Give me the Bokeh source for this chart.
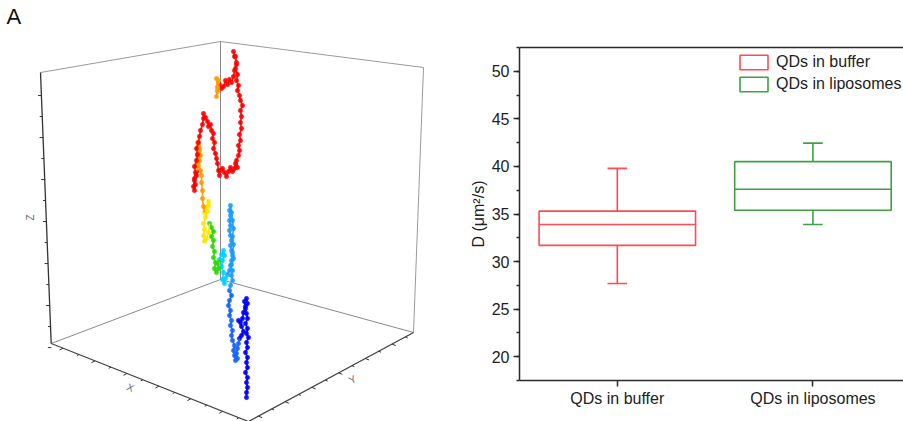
import numpy as np
from bokeh.plotting import figure
from bokeh.models import (Range1d, FixedTicker, SingleIntervalTicker, LinearAxis,
                          Label, Legend, LegendItem)
from bokeh.embed import file_html
from bokeh.resources import INLINE
from bokeh.core.properties import value

# ---------------- data: panel B (box statistics, D in um^2/s) ----------------
categories = ["QDs in buffer", "QDs in liposomes"]
box_q1 = [31.7, 35.4]
box_median = [33.9, 37.6]
box_q3 = [35.3, 40.5]
whisker_low = [27.7, 33.9]
whisker_high = [39.8, 42.45]
y_ticks = [20, 25, 30, 35, 40, 45, 50]

# ---------------- data: panel A (projected 3D trajectory) ----------------
track_u = [
    246, 246, 247, 246, 247, 245, 247, 246, 247, 245, 247, 246, 248, 246, 247, 245, 247, 246, 245, 247,
    246, 244, 245, 243, 242, 240, 238, 241, 243, 241, 239,
    238, 237, 236, 237, 235, 234, 233, 234, 232, 231, 232, 230, 231, 229, 230, 228, 229, 231, 229,
    230, 232, 231, 232, 230, 231, 232, 231, 230, 231, 230, 229, 230, 229, 230, 229, 230, 231, 232, 233,
    232, 233, 232, 233, 231, 229, 227,
    225, 224, 222, 223, 221, 222, 224, 223, 221, 219,
    217, 218, 216, 214, 215, 213, 214, 212, 213, 211, 213, 211, 209,
    208, 206, 204, 203, 204, 203, 205, 207, 208, 208, 206, 204,
    203, 202, 202, 201, 201, 200, 198, 199, 197, 199, 198, 197, 199, 200, 198, 196, 198,
    196, 194, 193, 194, 195, 194, 195, 194, 196, 197, 196, 198, 199, 200, 202, 203, 203, 205, 207, 208,
    210, 211, 213, 212, 214, 213, 215, 216, 217, 218, 219, 220, 222, 224, 226, 228, 230, 232, 234, 235,
    237, 236, 238, 239, 238, 240, 239, 241, 240, 241, 240, 242, 240, 239, 237, 238, 236, 237, 235, 236,
    234, 233, 235, 236, 234, 233, 231, 229, 227, 225, 223, 221, 219,
    218, 217, 217, 216, 217, 216,
]
track_v = [
    397, 392, 387, 382, 377, 372, 367, 362, 357, 352, 347, 342, 337, 333, 328, 323, 318, 313, 308, 303,
    298, 301, 306, 312, 318, 322, 320, 326, 331, 335, 338,
    343, 348, 353, 358, 360, 355, 350, 345, 340, 335, 330, 325, 320, 315, 310, 305, 300, 295, 290,
    285, 280, 275, 270, 265, 260, 255, 250, 245, 240, 235, 230, 225, 220, 215, 210, 205, 212, 220, 228,
    236, 244, 252, 258, 264, 270, 274,
    278, 283, 279, 272, 266, 260, 255, 250, 254, 259,
    263, 268, 272, 268, 262, 257, 251, 246, 240, 236, 231, 227, 223,
    232, 238, 241, 235, 229, 223, 217, 211, 205, 201, 208, 212,
    206, 198, 190, 182, 175, 170, 165, 160, 155, 150, 145, 142, 148, 155, 160, 165, 170,
    175, 180, 186, 190, 184, 178, 172, 166, 160, 154, 148, 142, 136, 130, 124, 118, 113, 117, 121, 126,
    124, 130, 133, 138, 142, 148, 153, 158, 163, 170, 175, 170, 168, 172, 176, 171, 167, 171, 168, 163,
    167, 160, 155, 150, 145, 140, 134, 128, 122, 116, 110, 105, 100, 95, 90, 85, 80, 74, 68, 62,
    56, 51, 56, 64, 70, 76, 82, 79, 84, 80, 86, 88, 84,
    80, 86, 91, 96, 89, 78,
]
track_group_sizes = [31, 19, 27, 10, 13, 12, 17, 73, 6]
track_group_colors = ["#0000FF", "#1464FF", "#1E9BFF", "#00D2FF", "#28DC00",
                      "#FFE600", "#FF9A00", "#FF0000", "#FF9A00"]

# ---------------- panel A: 3D frame ----------------
corner = {
    "top_left": (40, 72), "top_back": (220, 41), "top_right": (423, 67),
    "floor_left": (50.7, 343), "floor_back": (220, 279), "floor_right": (413, 332),
    "floor_front": (248, 421),
}

pA = figure(width=450, height=421, x_range=Range1d(0, 450), y_range=Range1d(421, 0),
            output_backend="svg", toolbar_location=None, min_border=0,
            x_axis_location=None, y_axis_location=None)
pA.grid.visible = False
pA.outline_line_color = None

def edge(a, b, color, width=1.0):
    (x0, y0), (x1, y1) = corner[a], corner[b]
    pA.line([x0, x1], [y0, y1], line_color=color, line_width=width)

edge("top_left", "top_back", "#9a9a9a")
edge("top_back", "top_right", "#9a9a9a")
edge("top_back", "floor_back", "#8a8a8a")
edge("top_right", "floor_right", "#9a9a9a")
edge("floor_left", "floor_back", "#8a8a8a")
edge("floor_back", "floor_right", "#8a8a8a")
edge("top_left", "floor_left", "#333333", 1.3)
edge("floor_left", "floor_front", "#444444", 1.3)
edge("floor_front", "floor_right", "#444444", 1.3)

def ticks_along(a, b, direction, n, first, step, major_len=4.0, minor_len=2.5):
    (x0, y0), (x1, y1) = corner[a], corner[b]
    d = np.array(direction, dtype=float)
    d /= np.hypot(*d)
    xs, ys = [], []
    for k in range(n):
        t = first + k * step
        px, py = x0 + t * (x1 - x0), y0 + t * (y1 - y0)
        L = major_len if k % 2 == 0 else minor_len
        xs.append([px, px + d[0] * L])
        ys.append([py, py + d[1] * L])
    pA.multi_line(xs, ys, line_color="#333333", line_width=1.0)

ticks_along("top_left", "floor_left", (-1, 0), 13, 0.085, 0.0775, 3.5, 2.5)
ticks_along("floor_left", "floor_front", (-0.88, 0.476), 12, 0.06, 0.081)
ticks_along("floor_front", "floor_right", (0.93, 0.37), 12, 0.06, 0.081)

pA.text(x=[30], y=[217], text=["Z"], angle=np.pi / 2, text_font=value("Liberation Sans"),
        text_font_size="10px", text_color="#666666", text_align="center", text_baseline="middle")
pA.text(x=[130], y=[387], text=["X"], angle=-0.4, text_font=value("Liberation Sans"),
        text_font_size="10px", text_color="#666666", text_align="center", text_baseline="middle")
pA.text(x=[352], y=[379], text=["Y"], angle=0.5, text_font=value("Liberation Sans"),
        text_font_size="10px", text_color="#666666", text_align="center", text_baseline="middle")

start = 0
for size, col in zip(track_group_sizes, track_group_colors):
    end = start + size
    lo = max(start - 1, 0)
    pA.line(track_u[lo:end], track_v[lo:end], line_color=col, line_width=1.7, line_alpha=0.9)
    pA.scatter(track_u[start:end], track_v[start:end], size=4.4, fill_color=col,
               line_color=col, line_width=0.5, fill_alpha=0.9, line_alpha=0.9)
    start = end

pA.add_layout(Label(x=6, y=28, x_units="canvas", y_units="canvas", text="A",
                    text_font="Liberation Sans", text_font_size="22px", text_color="#111111"))

# ---------------- panel B: box plot ----------------
box_colors = ["#FF4B55", "#3FA043"]
positions = [1, 2]

pB = figure(width=453, height=421, x_range=Range1d(0.5, 2.463), y_range=Range1d(17.5, 52.5),
            output_backend="svg", toolbar_location=None,
            min_border_left=69, min_border_right=0, min_border_top=47, min_border_bottom=41)
pB.grid.visible = False
pB.outline_line_color = None

items = []
for i, cat in enumerate(categories):
    x = positions[i]
    col = box_colors[i]
    r = pB.quad(left=[x - 0.4], right=[x + 0.4], bottom=[box_q1[i]], top=[box_q3[i]],
                fill_color=None, line_color=col, line_width=1.6)
    pB.segment(x0=[x - 0.4], x1=[x + 0.4], y0=[box_median[i]], y1=[box_median[i]],
               line_color=col, line_width=1.6)
    pB.segment(x0=[x, x], x1=[x, x], y0=[box_q3[i], box_q1[i]],
               y1=[whisker_high[i], whisker_low[i]], line_color=col, line_width=1.6)
    pB.segment(x0=[x - 0.05, x - 0.05], x1=[x + 0.05, x + 0.05],
               y0=[whisker_high[i], whisker_low[i]], y1=[whisker_high[i], whisker_low[i]],
               line_color=col, line_width=1.6)
    items.append(LegendItem(label=cat, renderers=[r]))

legend = Legend(items=items, location=(217, 287), glyph_width=35, glyph_height=18,
                label_height=18, label_width=10, spacing=4, padding=0, margin=0,
                border_line_color=None, background_fill_alpha=0, label_standoff=5,
                label_text_font="Liberation Sans", label_text_font_size="16px",
                label_text_color="#222222")
pB.add_layout(legend)

axis_col = "#2a2a2a"
xa = pB.xaxis[0]
xa.ticker = FixedTicker(ticks=positions, minor_ticks=[])
xa.major_label_overrides = {p: c for p, c in zip(positions, categories)}
ya = pB.yaxis[0]
ya.ticker = SingleIntervalTicker(interval=5, num_minor_ticks=2)
ya.axis_label = "D (\u03bcm\u00b2/s)"
for ax in (xa, ya):
    ax.axis_line_width = 1.5
    ax.axis_line_color = axis_col
    ax.major_tick_line_color = axis_col
    ax.major_tick_line_width = 1.5
    ax.major_tick_in = 0
    ax.major_tick_out = 6
    ax.minor_tick_line_color = axis_col
    ax.minor_tick_line_width = 1.3
    ax.minor_tick_in = 0
    ax.minor_tick_out = 3
    ax.major_label_text_font = "Liberation Sans"
    ax.major_label_text_font_size = "16px"
    ax.major_label_text_color = "#222222"
    ax.axis_label_text_font = "Liberation Sans"
    ax.axis_label_text_font_size = "16px"
    ax.axis_label_text_font_style = "normal"
    ax.axis_label_text_color = "#222222"
xa.major_label_standoff = 3
ya.major_label_standoff = 4
ya.axis_label_standoff = 2

top_axis = LinearAxis(axis_line_width=1.5, axis_line_color=axis_col,
                      major_tick_line_color=None, minor_tick_line_color=None,
                      major_label_text_color=None, major_label_text_font_size="1px")
pB.add_layout(top_axis, "above")

pB.add_layout(Label(x=12, y=28, x_units="canvas", y_units="canvas", text="B",
                    text_font="Liberation Sans", text_font_size="22px",
                    text_color="#111111"))

# two independent roots placed side by side (no frame alignment between panels)
html = file_html([pA, pB], INLINE)
side_by_side = ("<style>html,body{margin:0;padding:0;}"
                "body{display:flex;flex-direction:row;align-items:flex-start;}</style>")
html = html.replace("</head>", side_by_side + "</head>", 1)
open("out.html", "w").write(html)
